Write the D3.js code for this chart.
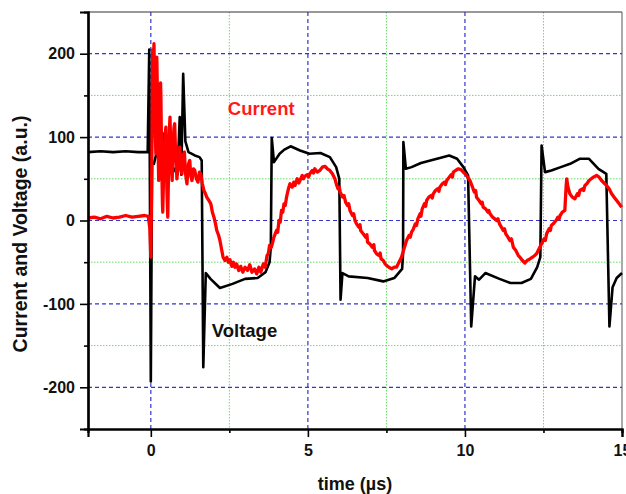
<!DOCTYPE html>
<html>
<head>
<meta charset="utf-8">
<script src="https://cdn.jsdelivr.net/npm/d3@7"></script>
<style>
  html, body { margin: 0; padding: 0; background: #fff; }
  svg { display: block; font-family: "Liberation Sans", Arial, sans-serif; }
  .tick text { font-weight: bold; font-size: 16px; fill: #111; }
</style>
</head>
<body>
<div id="chart"></div>
<script>
const W = 626, H = 494;
const MARGIN = { top: 12, right: 4, bottom: 65, left: 88 };

const X_DOMAIN = [-2, 15];
const Y_DOMAIN = [-250, 250];
const X_MAJOR = [0, 5, 10, 15];
const X_MINOR = [2.5, 7.5, 12.5];
const Y_MAJOR = [-200, -100, 0, 100, 200];
const Y_MINOR = [-150, -50, 50, 150];

// voltage trace [time µs, a.u.]
const voltage = [
  [-2.0, 82], [-1.6, 83], [-1.2, 82], [-0.8, 83], [-0.4, 82], [-0.1, 82],
  [-0.05, 205], [0.0, -193], [0.04, 70], [0.1, 68], [0.3, 100], [0.4, 104],
  [0.45, 75], [0.6, 70], [0.85, 55], [0.92, 124], [0.97, 55], [1.03, 176],
  [1.1, 95], [1.2, 82], [1.4, 78], [1.55, 76], [1.62, 72], [1.67, -176],
  [1.75, -63], [1.9, -70], [2.2, -81], [2.6, -76], [3.0, -70], [3.4, -69],
  [3.65, -62], [3.78, -50], [3.82, -32], [3.85, 99], [3.92, 70], [4.1, 80],
  [4.25, 85], [4.45, 89], [4.75, 84], [5.05, 80], [5.4, 81], [5.7, 76],
  [5.9, 64], [6.0, 50], [6.04, -95], [6.1, -63], [6.3, -67], [6.9, -69],
  [7.4, -73], [7.75, -69], [8.0, -58], [8.03, -40], [8.04, 94], [8.12, 62],
  [8.3, 64], [8.6, 69], [8.9, 72], [9.2, 75], [9.5, 78], [9.75, 74],
  [9.95, 64], [10.1, 54], [10.2, -127], [10.32, -67], [10.45, -71], [10.65, -63],
  [11.1, -70], [11.45, -75], [11.8, -75], [12.1, -70], [12.3, -56], [12.4, -44],
  [12.44, 90], [12.55, 58], [12.75, 60], [13.05, 64], [13.35, 68], [13.65, 74],
  [13.95, 74], [14.25, 62], [14.5, 56], [14.6, -127], [14.7, -80], [14.83, -69],
  [15.0, -63]
];

// current trace [time µs, a.u.]
const current = [
  [-2.0, 3], [-1.8, 4], [-1.6, 2], [-1.4, 5], [-1.2, 3], [-1.0, 4], [-0.8, 6],
  [-0.6, 4], [-0.4, 5], [-0.2, 6], [-0.08, 5], [-0.03, -10], [0.0, -44],
  [0.03, 60], [0.06, 205], [0.08, 180], [0.10, 212], [0.12, 170], [0.14, 110],
  [0.16, 80], [0.18, 170], [0.19, 196], [0.21, 150], [0.22, 120], [0.24, 70],
  [0.25, 48], [0.27, 100], [0.29, 140], [0.31, 165], [0.32, 150], [0.34, 90],
  [0.35, 60], [0.37, 20], [0.38, 10], [0.41, 60], [0.43, 80], [0.46, 105],
  [0.48, 112], [0.50, 70], [0.51, 40], [0.53, 15], [0.54, 4], [0.56, 50],
  [0.58, 90], [0.60, 115], [0.61, 124], [0.63, 95], [0.65, 70], [0.67, 55],
  [0.68, 48], [0.70, 80], [0.72, 100], [0.74, 112], [0.76, 116], [0.78, 90],
  [0.80, 70], [0.82, 58], [0.83, 50], [0.86, 65], [0.88, 75], [0.90, 85],
  [0.92, 88], [0.94, 72], [0.96, 60], [0.99, 56], [1.01, 70], [1.03, 78],
  [1.07, 82], [1.09, 66], [1.11, 55], [1.15, 44], [1.18, 60], [1.2, 68],
  [1.24, 72], [1.26, 60], [1.28, 52], [1.31, 48], [1.36, 62], [1.40, 60],
  [1.45, 50], [1.50, 46], [1.55, 58], [1.59, 56], [1.64, 44], [1.69, 36],
  [1.74, 32], [1.78, 28], [1.85, 24], [1.91, 20], [1.96, 10], [2.01, 4],
  [2.06, -4], [2.10, -12], [2.16, -18], [2.20, -24], [2.26, -36], [2.30, -44],
  [2.36, -48], [2.42, -44], [2.47, -50], [2.52, -47], [2.58, -55], [2.63, -50],
  [2.68, -56], [2.73, -52], [2.80, -60], [2.86, -55], [2.93, -62], [3.0, -56],
  [3.08, -60], [3.15, -53], [3.22, -62], [3.30, -58], [3.37, -64], [3.44, -56],
  [3.50, -62], [3.58, -52], [3.64, -56], [3.70, -42], [3.74, -40], [3.78, -30],
  [3.84, -32], [3.92, -20], [4.0, -12], [4.04, -14], [4.08, 0], [4.12, -2],
  [4.16, 12], [4.2, 10], [4.24, 20], [4.28, 18], [4.32, 28], [4.38, 38],
  [4.43, 44], [4.50, 40], [4.55, 46], [4.59, 42], [4.66, 50], [4.71, 45],
  [4.75, 48], [4.82, 54], [4.86, 50], [4.90, 53], [4.98, 55], [5.02, 52],
  [5.06, 56], [5.14, 60], [5.18, 57], [5.22, 62], [5.30, 58], [5.38, 60],
  [5.46, 64], [5.54, 65], [5.62, 62], [5.70, 60], [5.78, 56], [5.86, 50],
  [5.92, 42], [5.96, 38], [6.0, 40], [6.03, 34], [6.11, 28], [6.15, 30],
  [6.2, 22], [6.26, 18], [6.3, 20], [6.34, 12], [6.42, 6], [6.46, 8],
  [6.5, 0], [6.55, -4], [6.62, -8], [6.66, -5], [6.68, -12], [6.76, -16],
  [6.84, -20], [6.88, -17], [6.9, -26], [6.97, -28], [7.05, -32], [7.1, -29],
  [7.12, -36], [7.19, -40], [7.26, -42], [7.3, -39], [7.33, -46], [7.40, -48],
  [7.46, -52], [7.51, -54], [7.58, -56], [7.67, -58], [7.75, -56], [7.82, -56],
  [7.9, -50], [7.98, -44], [8.06, -34], [8.14, -24], [8.22, -18], [8.26, -20],
  [8.3, -14], [8.35, -11], [8.42, -4], [8.46, -6], [8.5, 2], [8.57, 8],
  [8.6, 5], [8.64, 14], [8.71, 20], [8.75, 17], [8.78, 24], [8.85, 28],
  [8.92, 30], [8.96, 27], [8.99, 32], [9.06, 36], [9.13, 38], [9.17, 35],
  [9.2, 40], [9.28, 44], [9.35, 46], [9.38, 43], [9.42, 48], [9.5, 52],
  [9.56, 55], [9.6, 52], [9.63, 58], [9.7, 60], [9.79, 62], [9.87, 61],
  [9.95, 58], [10.05, 54], [10.16, 48], [10.24, 40], [10.3, 34], [10.34, 36],
  [10.37, 28], [10.45, 24], [10.52, 20], [10.55, 22], [10.58, 16], [10.66, 14],
  [10.73, 10], [10.76, 12], [10.8, 8], [10.88, 4], [10.95, 2], [11.01, 0],
  [11.05, 2], [11.1, -4], [11.16, -8], [11.22, -12], [11.26, -10], [11.3, -16],
  [11.37, -20], [11.43, -24], [11.48, -22], [11.54, -32], [11.62, -36],
  [11.7, -42], [11.75, -44], [11.83, -48], [11.91, -51], [11.98, -48],
  [12.07, -46], [12.15, -44], [12.22, -42], [12.28, -40], [12.36, -34],
  [12.44, -28], [12.52, -22], [12.56, -24], [12.6, -16], [12.68, -10],
  [12.72, -12], [12.75, -6], [12.81, -4], [12.9, 0], [12.96, 4], [13.0, 2],
  [13.03, 6], [13.1, 10], [13.18, 12], [13.22, 40], [13.24, 50], [13.28, 40],
  [13.34, 32], [13.42, 28], [13.5, 26], [13.58, 32], [13.62, 30], [13.66, 36],
  [13.74, 38], [13.78, 36], [13.82, 42], [13.88, 44], [13.95, 48], [14.02, 50],
  [14.09, 52], [14.19, 54], [14.27, 52], [14.35, 48], [14.43, 45], [14.51, 42],
  [14.59, 38], [14.67, 32], [14.75, 28], [14.83, 24], [14.91, 20], [14.99, 16]
];

const labels = [
  { text: "Current", t: 2.45, v: 126, color: "#ff1a1a" },
  { text: "Voltage", t: 1.94, v: -140, color: "#111" }
];

const svg = d3.select("#chart").append("svg")
  .attr("width", W).attr("height", H);

const x = d3.scaleLinear().domain(X_DOMAIN).range([MARGIN.left, W - MARGIN.right]);
const y = d3.scaleLinear().domain(Y_DOMAIN).range([H - MARGIN.bottom, MARGIN.top]);

const [x0, x1] = x.range();
const [y0, y1] = [y(Y_DOMAIN[1]), y(Y_DOMAIN[0])];
const fmt = d => String(d); // plain hyphen minus, as in the original

// grid
const grid = svg.append("g");
X_MINOR.forEach(t => grid.append("line")
  .attr("x1", x(t)).attr("x2", x(t)).attr("y1", y0).attr("y2", y1)
  .attr("stroke", "#66dd66").attr("stroke-width", 1).attr("stroke-dasharray", "1.5,1.5"));
Y_MINOR.forEach(v => grid.append("line")
  .attr("x1", x0).attr("x2", x1).attr("y1", y(v)).attr("y2", y(v))
  .attr("stroke", "#66dd66").attr("stroke-width", 1).attr("stroke-dasharray", "1.5,1.5"));
X_MAJOR.filter(t => t < X_DOMAIN[1]).forEach(t => grid.append("line")
  .attr("x1", x(t)).attr("x2", x(t)).attr("y1", y0).attr("y2", y1)
  .attr("stroke", "#3535cc").attr("stroke-width", 1.2).attr("stroke-dasharray", "4,3"));
Y_MAJOR.forEach(v => grid.append("line")
  .attr("x1", x0).attr("x2", x1).attr("y1", y(v)).attr("y2", y(v))
  .attr("stroke", "#3535cc").attr("stroke-width", 1.2).attr("stroke-dasharray", "4,3"));

// frame (thin top/right)
svg.append("line").attr("x1", x0).attr("x2", x1).attr("y1", y0).attr("y2", y0)
  .attr("stroke", "#333").attr("stroke-width", 1);
svg.append("line").attr("x1", x1).attr("x2", x1).attr("y1", y0).attr("y2", y1)
  .attr("stroke", "#555").attr("stroke-width", 1);

// traces
const line = d3.line().x(d => x(d[0])).y(d => y(d[1]));
const plot = svg.append("g");
plot.append("path").datum(voltage)
  .attr("d", line).attr("fill", "none")
  .attr("stroke", "#000").attr("stroke-width", 2.6).attr("stroke-linejoin", "round");
plot.append("path").datum(current)
  .attr("d", line).attr("fill", "none")
  .attr("stroke", "#ff0000").attr("stroke-width", 3.3).attr("stroke-linejoin", "round");

// axes
const xAxis = svg.append("g").attr("transform", `translate(0,${y1})`)
  .call(d3.axisBottom(x).tickValues(X_MAJOR).tickSize(8).tickPadding(5).tickFormat(fmt));
svg.append("g").attr("transform", `translate(0,${y1})`)
  .call(d3.axisBottom(x).tickValues(X_MINOR).tickSize(4).tickFormat(""));
svg.append("g").attr("transform", `translate(${x0},0)`)
  .call(d3.axisLeft(y).tickValues(Y_MAJOR).tickSize(8).tickPadding(5).tickFormat(fmt));
svg.append("g").attr("transform", `translate(${x0},0)`)
  .call(d3.axisLeft(y).tickValues(Y_MINOR).tickSize(4).tickFormat(""));

svg.selectAll(".domain").attr("stroke", "#000").attr("stroke-width", 2.2);
svg.selectAll(".tick line").attr("stroke", "#000").attr("stroke-width", 1.6);
xAxis.selectAll(".tick text").attr("dy", "0.9em");

// axis titles
svg.append("text")
  .attr("x", (x0 + x1) / 2).attr("y", 490)
  .attr("text-anchor", "middle")
  .style("font-weight", "bold").style("font-size", "18px").style("fill", "#111")
  .text("time (µs)");
svg.append("text")
  .attr("transform", `translate(27,234) rotate(-90)`)
  .attr("text-anchor", "middle")
  .style("font-weight", "bold").style("font-size", "19.5px").style("fill", "#111")
  .text("Current and Voltage (a.u.)");

// trace labels
labels.forEach(l => svg.append("text")
  .attr("x", x(l.t)).attr("y", y(l.v))
  .style("font-weight", "bold").style("font-size", "18.5px").style("fill", l.color)
  .text(l.text));
</script>
</body>
</html>
